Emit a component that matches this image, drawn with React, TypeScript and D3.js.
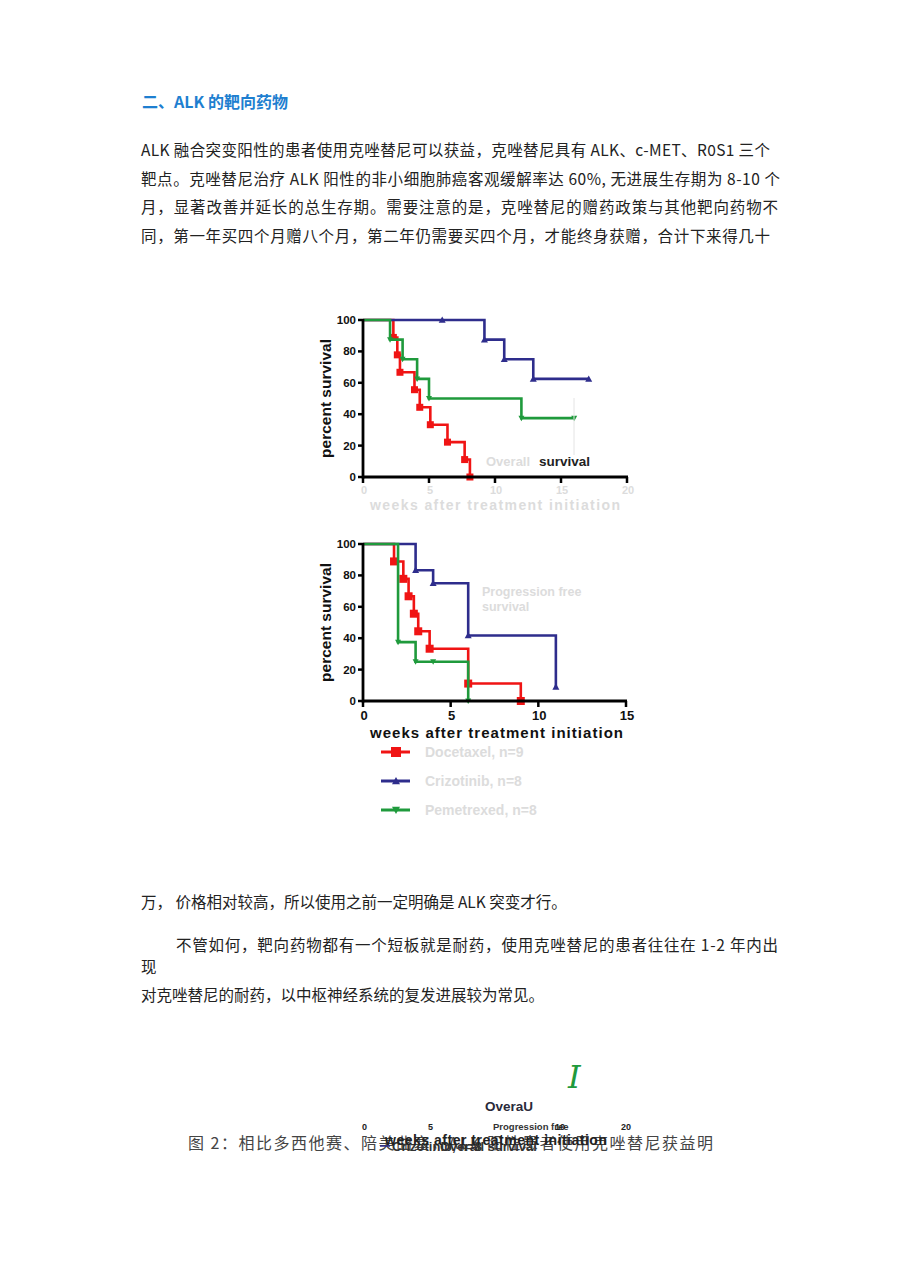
import React from "react";
import * as d3 from "d3";

// ---------- text content ----------
const HEADING = "二、ALK 的靶向药物";
const PARA1 = [
  "ALK 融合突变阳性的患者使用克唑替尼可以获益，克唑替尼具有 ALK、c-MET、R0S1 三个",
  "靶点。克唑替尼治疗 ALK 阳性的非小细胞肺癌客观缓解率达 60%, 无进展生存期为 8-10 个",
  "月，显著改善并延长的总生存期。需要注意的是，克唑替尼的赠药政策与其他靶向药物不",
  "同，第一年买四个月赠八个月，第二年仍需要买四个月，才能终身获赠，合计下来得几十",
];
const PARA1_END = [770, 780, 778, 770];
const PARA2 = "万，  价格相对较高，所以使用之前一定明确是 ALK 突变才行。";
const PARA3A = "不管如何，靶向药物都有一个短板就是耐药，使用克唑替尼的患者往往在  1-2 年内出";
const PARA3B = "现";
const PARA3C = "对克唑替尼的耐药，以中枢神经系统的复发进展较为常见。";
const CAPTION = "图 2：相比多西他赛、陪美曲塞，ALK 阳性患者使用克唑替尼获益明";

// ---------- chart data ----------
const Y_TICKS = [0, 20, 40, 60, 80, 100];
const OS_X_TICKS = [0, 5, 10, 15, 20];
const PFS_X_TICKS = [0, 5, 10, 15];
const LEGEND_LABELS = ["Docetaxel, n=9", "Crizotinib, n=8", "Pemetrexed, n=8"];

// Overall survival (top)
const OS_RED_T = [2.3, 2.6, 2.8, 3.9, 4.3, 5.1, 6.4, 7.7, 8.1];
const OS_RED_S = [88.9, 77.8, 66.7, 55.6, 44.4, 33.3, 22.2, 11.1, 0];
const OS_RED_CENSOR: number[] = [];
const OS_BLUE_T = [9.2, 10.7, 12.9];
const OS_BLUE_S = [87.5, 75, 62.5];
const OS_BLUE_CENSOR = [6.0, 17.1];
const OS_GREEN_T = [2.05, 3.0, 4.1, 5.0, 12.0];
const OS_GREEN_S = [87.5, 75, 62.5, 50, 37.5];
const OS_GREEN_CENSOR = [16.0];

// Progression free survival (bottom)
const PFS_RED_T = [1.77, 2.3, 2.6, 2.9, 3.15, 3.8, 6.0, 9.0];
const PFS_RED_S = [88.9, 77.8, 66.7, 55.6, 44.4, 33.3, 11.1, 0];
const PFS_RED_CENSOR: number[] = [];
const PFS_BLUE_T = [3.0, 4.0, 6.0, 11.0];
const PFS_BLUE_S = [83.3, 75, 41.7, 9];
const PFS_BLUE_CENSOR: number[] = [];
const PFS_GREEN_T = [2.0, 3.0, 6.0];
const PFS_GREEN_S = [37.5, 25, 0];
const PFS_GREEN_CENSOR = [4.0];

const RED = "#f01414";
const BLUE = "#2e2d8c";
const GREEN = "#1f9a3c";
const FADED = "#dcdcdc";
const CHART_FONT = "'Liberation Sans', Arial, sans-serif";
const CJK_FONT = "'Noto Sans CJK SC', 'Noto Sans', sans-serif";

type Series = { t: number[]; s: number[]; censor: number[]; color: string; marker: string; size: number };

function survAt(t: number[], s: number[], x: number) {
  let v = 100;
  for (let i = 0; i < t.length; i++) if (t[i] <= x) v = s[i];
  return v;
}

function Marker({ type, x, y, color, size }: { type: string; x: number; y: number; color: string; size: number }) {
  const h = size / 2;
  if (type === "square") return <rect x={x - h} y={y - h} width={size} height={size} fill={color} />;
  if (type === "up")
    return <path d={`M${x},${y - h}L${x + h},${y + h * 0.8}L${x - h},${y + h * 0.8}Z`} fill={color} />;
  return <path d={`M${x},${y + h}L${x + h},${y - h * 0.8}L${x - h},${y - h * 0.8}Z`} fill={color} />;
}

function KMChart({
  series,
  xDomain,
  xTicks,
  x0,
  x1,
  yTop,
  yBottom,
  fadedX,
}: {
  series: Series[];
  xDomain: [number, number];
  xTicks: number[];
  x0: number;
  x1: number;
  yTop: number;
  yBottom: number;
  fadedX: boolean;
}) {
  const x = d3.scaleLinear().domain(xDomain).range([x0, x1]);
  const y = d3.scaleLinear().domain([0, 100]).range([yBottom, yTop]);
  const line = d3
    .line<[number, number]>()
    .x((d) => x(d[0]))
    .y((d) => y(d[1]))
    .curve(d3.curveStepAfter);
  return (
    <g>
      {series.map((se, i) => {
        const pts: [number, number][] = [[0, 100]];
        se.t.forEach((tt, j) => pts.push([tt, se.s[j]]));
        const lastT = Math.max(...se.t, ...se.censor);
        pts.push([lastT, survAt(se.t, se.s, lastT)]);
        return (
          <g key={i}>
            <path d={line(pts) || ""} fill="none" stroke={se.color} strokeWidth={2.6} strokeLinejoin="miter" />
            {se.t.map((tt, j) => (
              <Marker key={"e" + j} type={se.marker} x={x(tt)} y={y(se.s[j])} color={se.color} size={se.size} />
            ))}
            {se.censor.map((tt, j) => (
              <Marker
                key={"c" + j}
                type={se.marker}
                x={x(tt)}
                y={y(survAt(se.t, se.s, tt))}
                color={se.color}
                size={se.size}
              />
            ))}
          </g>
        );
      })}
      {/* axes */}
      <line x1={x0} x2={x0} y1={yTop - 1} y2={yBottom + 1.5} stroke="#000" strokeWidth={2.8} />
      <line x1={x0 - 1} x2={x1 + 1} y1={yBottom} y2={yBottom} stroke="#000" strokeWidth={2.8} />
      {Y_TICKS.map((v) => (
        <g key={v}>
          <line x1={x0 - 5} x2={x0} y1={y(v)} y2={y(v)} stroke="#000" strokeWidth={2.5} />
          <text
            x={x0 - 7}
            y={y(v) + 4}
            textAnchor="end"
            fontFamily={CHART_FONT}
            fontWeight="bold"
            fontSize={11.5}
            fill="#111"
          >
            {v}
          </text>
        </g>
      ))}
      {xTicks.map((v) => (
        <g key={v}>
          <line x1={x(v)} x2={x(v)} y1={yBottom} y2={yBottom + 6} stroke="#000" strokeWidth={2.5} />
          <text
            x={x(v) + 1}
            y={yBottom + (fadedX ? 17 : 19)}
            textAnchor="middle"
            fontFamily={CHART_FONT}
            fontWeight="bold"
            fontSize={fadedX ? 11 : 13}
            fill={fadedX ? FADED : "#111"}
          >
            {v}
          </text>
        </g>
      ))}
      <text
        transform={`translate(${x0 - 32},${(yTop + yBottom) / 2}) rotate(-90)`}
        textAnchor="middle"
        fontFamily={CHART_FONT}
        fontWeight="bold"
        fontSize={15.5}
        fill="#111"
      >
        percent survival
      </text>
    </g>
  );
}

export default function App() {
  const osSeries: Series[] = [
    { t: OS_RED_T, s: OS_RED_S, censor: OS_RED_CENSOR, color: RED, marker: "square", size: 7 },
    { t: OS_BLUE_T, s: OS_BLUE_S, censor: OS_BLUE_CENSOR, color: BLUE, marker: "up", size: 7 },
    { t: OS_GREEN_T, s: OS_GREEN_S, censor: OS_GREEN_CENSOR, color: GREEN, marker: "down", size: 6 },
  ];
  const pfsSeries: Series[] = [
    { t: PFS_RED_T, s: PFS_RED_S, censor: PFS_RED_CENSOR, color: RED, marker: "square", size: 8 },
    { t: PFS_BLUE_T, s: PFS_BLUE_S, censor: PFS_BLUE_CENSOR, color: BLUE, marker: "up", size: 7 },
    { t: PFS_GREEN_T, s: PFS_GREEN_S, censor: PFS_GREEN_CENSOR, color: GREEN, marker: "down", size: 6 },
  ];
  const legendColors = [RED, BLUE, GREEN];
  const legendMarkers = ["square", "up", "down"];
  const legendY = [752, 781, 810];

  return (
    <svg
      width={920}
      height={1273}
      style={{ position: "absolute", left: 0, top: 0, background: "#fff" }}
      xmlns="http://www.w3.org/2000/svg"
    >
      <rect width={920} height={1273} fill="#fff" />
      {/* heading */}
      <text x={142} y={108} fontFamily={CJK_FONT} fontWeight="bold" fontSize={16} fill="#1e7fd0">
        {HEADING}
      </text>
      {PARA1.map((l, i) => (
        <text
          key={i}
          x={141}
          y={156 + i * 28.5}
          fontFamily={CJK_FONT}
          fontSize={15.5}
          fill="#222"
          textLength={PARA1_END[i] - 141}
          lengthAdjust="spacing"
        >
          {l}
        </text>
      ))}

      {/* top chart: overall survival */}
      <KMChart
        series={osSeries}
        xDomain={[0, 20]}
        xTicks={OS_X_TICKS}
        x0={363}
        x1={627}
        yTop={320}
        yBottom={477}
        fadedX={true}
      />
      <line x1={574} x2={574} y1={398} y2={455} stroke="#e4e4e4" strokeWidth={1} />
      <text x={486} y={466} fontFamily={CHART_FONT} fontWeight="bold" fontSize={13} fill={FADED}>
        Overall
      </text>
      <text x={539} y={466} fontFamily={CHART_FONT} fontWeight="bold" fontSize={13.5} fill="#222">
        survival
      </text>
      <text
        x={495}
        y={510}
        textAnchor="middle"
        fontFamily={CHART_FONT}
        fontWeight="bold"
        fontSize={14}
        fill={FADED}
        textLength={250}
      >
        weeks after treatment initiation
      </text>

      {/* bottom chart: progression free survival */}
      <KMChart
        series={pfsSeries}
        xDomain={[0, 15]}
        xTicks={PFS_X_TICKS}
        x0={363}
        x1={626}
        yTop={544}
        yBottom={701}
        fadedX={false}
      />
      <text x={482} y={596} fontFamily={CHART_FONT} fontWeight="bold" fontSize={12.5} fill={FADED}>
        Progression free
      </text>
      <text x={482} y={611} fontFamily={CHART_FONT} fontWeight="bold" fontSize={12.5} fill={FADED}>
        survival
      </text>
      <text
        x={370}
        y={738}
        fontFamily={CHART_FONT}
        fontWeight="bold"
        fontSize={15}
        fill="#111"
        textLength={253}
      >
        weeks after treatment initiation
      </text>

      {/* legend */}
      {LEGEND_LABELS.map((lab, i) => (
        <g key={i}>
          <line x1={381} x2={410} y1={legendY[i]} y2={legendY[i]} stroke={legendColors[i]} strokeWidth={3} />
          <Marker type={legendMarkers[i]} x={396} y={legendY[i]} color={legendColors[i]} size={i === 0 ? 10 : 8} />
          <text
            x={425}
            y={legendY[i] + 5}
            fontFamily={CHART_FONT}
            fontWeight="bold"
            fontSize={14}
            fill={FADED}
          >
            {lab}
          </text>
        </g>
      ))}

      {/* following paragraphs */}
      <text x={141} y={908} fontFamily={CJK_FONT} fontSize={15.5} fill="#222">
        {PARA2}
      </text>
      <text
        x={176}
        y={951}
        fontFamily={CJK_FONT}
        fontSize={15.5}
        fill="#222"
        textLength={602}
        lengthAdjust="spacing"
      >
        {PARA3A}
      </text>
      <text x={141} y={973} fontFamily={CJK_FONT} fontSize={15.5} fill="#222">
        {PARA3B}
      </text>
      <text x={141} y={1001} fontFamily={CJK_FONT} fontSize={15.5} fill="#222">
        {PARA3C}
      </text>

      {/* stray overlapping remnants */}
      <text
        x={568}
        y={1088}
        fontFamily="'DejaVu Serif', serif"
        fontStyle="italic"
        fontSize={32}
        fill={GREEN}
      >
        I
      </text>
      <text x={485} y={1111} fontFamily={CHART_FONT} fontWeight="bold" fontSize={13.5} fill="#2a2a3a">
        OveraU
      </text>
      <text x={362} y={1130} fontFamily={CHART_FONT} fontWeight="bold" fontSize={9} fill="#222">
        0
      </text>
      <text x={428} y={1130} fontFamily={CHART_FONT} fontWeight="bold" fontSize={9} fill="#222">
        5
      </text>
      <text x={493} y={1130} fontFamily={CHART_FONT} fontWeight="bold" fontSize={9.5} fill="#333">
        Progression free
      </text>
      <text x={555} y={1130} fontFamily={CHART_FONT} fontWeight="bold" fontSize={9} fill="#222">
        10
      </text>
      <text x={621} y={1130} fontFamily={CHART_FONT} fontWeight="bold" fontSize={9} fill="#222">
        20
      </text>
      <text x={188} y={1149} fontFamily={CJK_FONT} fontSize={16} fill="#444" textLength={525} lengthAdjust="spacing">
        {CAPTION}
      </text>
      <line x1={380} x2={390} y1={1146} y2={1146} stroke={BLUE} strokeWidth={1.5} />
      <text x={392} y={1151} fontFamily={CHART_FONT} fontWeight="bold" fontSize={13} fill="#333">
        Crizotinib, n=8
      </text>
      <text x={440} y={1151} fontFamily={CHART_FONT} fontWeight="bold" fontSize={13} fill="#333">
        Overall survival
      </text>
      <text
        x={385}
        y={1145}
        fontFamily={CHART_FONT}
        fontWeight="bold"
        fontSize={14}
        fill="#222"
        textLength={222}
      >
        weeks after treatment initiation
      </text>
    </svg>
  );
}
